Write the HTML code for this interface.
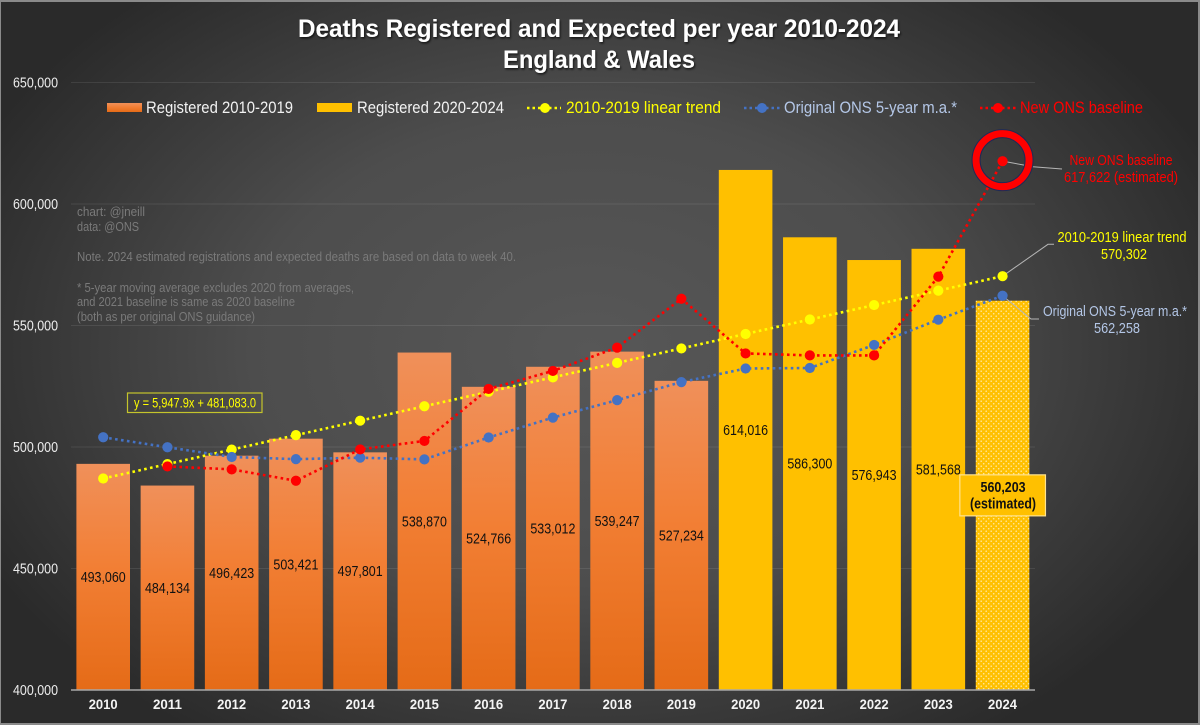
<!DOCTYPE html>
<html lang="en">
<head>
<meta charset="utf-8">
<title>Deaths Registered and Expected per year 2010-2024</title>
<style>
html,body{margin:0;padding:0;background:#8a8a8a;}
svg{display:block;}
text{font-family:"Liberation Sans",sans-serif;}
</style>
</head>
<body>
<svg id="chart" xmlns="http://www.w3.org/2000/svg" width="1200" height="725" viewBox="0 0 1200 725">
  <defs>
    <radialGradient id="bgGrad" gradientUnits="userSpaceOnUse" cx="0" cy="0" r="1" gradientTransform="translate(590 350) scale(680 470)">
      <stop offset="0" stop-color="#575757"/>
      <stop offset="0.5" stop-color="#4d4d4d"/>
      <stop offset="1" stop-color="#2a2a2a"/>
    </radialGradient>
    <linearGradient id="orangeGrad" x1="0" y1="0" x2="0" y2="1">
      <stop offset="0" stop-color="#f0905a"/>
      <stop offset="0.45" stop-color="#f27f35"/>
      <stop offset="1" stop-color="#e56b17"/>
    </linearGradient>
    <pattern id="dots" width="5" height="5" patternUnits="userSpaceOnUse">
      <rect width="5" height="5" fill="#ffc000"/>
      <circle cx="1.2" cy="1.2" r="0.8" fill="#ffe79a"/>
      <circle cx="3.7" cy="3.7" r="0.8" fill="#ffe79a"/>
    </pattern>
    <filter id="titleShadow" x="-5%" y="-20%" width="110%" height="150%">
      <feDropShadow dx="1" dy="1.5" stdDeviation="1" flood-color="#000" flood-opacity="0.7"/>
    </filter>
  </defs>

  <rect x="1" y="2" width="1197" height="721" fill="url(#bgGrad)"/>

  <g id="grid"></g>
  <g id="yTicks"></g>
  <g id="bars"></g>
  <line x1="71" y1="690" x2="1035" y2="690" stroke="#a8a8a8" stroke-width="1.5"/>
  <g id="xTicks"></g>

  <g filter="url(#titleShadow)">
    <text x="599" y="37" text-anchor="middle" font-size="25" font-weight="700" fill="#fff" textLength="602" lengthAdjust="spacingAndGlyphs">Deaths Registered and Expected per year 2010-2024</text>
    <text x="599" y="68" text-anchor="middle" font-size="25" font-weight="700" fill="#fff" textLength="192" lengthAdjust="spacingAndGlyphs">England &amp; Wales</text>
  </g>

  <g font-size="17">
    <g>
      <rect x="107" y="103" width="35" height="9" fill="url(#orangeGrad)"/>
      <text x="146" y="113" fill="#f2f2f2" textLength="147" lengthAdjust="spacingAndGlyphs">Registered 2010-2019</text>
    </g>
    <g>
      <rect x="317" y="103" width="35" height="9" fill="#ffc000"/>
      <text x="357" y="113" fill="#f2f2f2" textLength="147" lengthAdjust="spacingAndGlyphs">Registered 2020-2024</text>
    </g>
    <g>
      <line x1="527" y1="108" x2="561" y2="108" stroke="#ffff00" stroke-width="2.5" stroke-dasharray="2.5 3"/>
      <circle cx="545" cy="108" r="5" fill="#ffff00"/>
      <text x="566" y="113" fill="#ffff00" textLength="155" lengthAdjust="spacingAndGlyphs">2010-2019 linear trend</text>
    </g>
    <g>
      <line x1="744" y1="108" x2="780" y2="108" stroke="#4472c4" stroke-width="2.5" stroke-dasharray="2.5 3"/>
      <circle cx="762" cy="108" r="5" fill="#4472c4"/>
      <text x="784" y="113" fill="#b4c7e7" textLength="173" lengthAdjust="spacingAndGlyphs">Original ONS 5-year m.a.*</text>
    </g>
    <g>
      <line x1="980" y1="108" x2="1016" y2="108" stroke="#ff0000" stroke-width="2.5" stroke-dasharray="2.5 3"/>
      <circle cx="998" cy="108" r="5" fill="#ff0000"/>
      <text x="1020" y="113" fill="#ff0000" textLength="123" lengthAdjust="spacingAndGlyphs">New ONS baseline</text>
    </g>
  </g>

  <g font-size="13" fill="#7a7a7a">
    <text x="77" y="216" textLength="68" lengthAdjust="spacingAndGlyphs">chart: @jneill</text>
    <text x="77" y="231" textLength="62" lengthAdjust="spacingAndGlyphs">data: @ONS</text>
    <text x="77" y="261" textLength="439" lengthAdjust="spacingAndGlyphs">Note. 2024 estimated registrations and expected deaths are based on data to week 40.</text>
    <text x="77" y="292" textLength="277" lengthAdjust="spacingAndGlyphs">* 5-year moving average excludes 2020 from averages,</text>
    <text x="77" y="306" textLength="218" lengthAdjust="spacingAndGlyphs">and 2021 baseline is same as 2020 baseline</text>
    <text x="77" y="321" textLength="178" lengthAdjust="spacingAndGlyphs">(both as per original ONS guidance)</text>
  </g>

  <g>
    <rect x="127.5" y="393" width="134.5" height="19.5" fill="none" stroke="#c4c42c" stroke-width="1.2"/>
    <text x="195" y="407.5" text-anchor="middle" font-size="13.5" fill="#ffff00" textLength="122" lengthAdjust="spacingAndGlyphs">y = 5,947.9x + 481,083.0</text>
  </g>

  <g id="leaders"></g>
  <g id="series"></g>
  <g id="barLabels"></g>
  <g id="ringLayer"></g>

  <g font-size="14.5" text-anchor="middle">
    <text x="1121" y="165" fill="#ff0000" textLength="103" lengthAdjust="spacingAndGlyphs">New ONS baseline</text>
    <text x="1121" y="182" fill="#ff0000" textLength="114" lengthAdjust="spacingAndGlyphs">617,622 (estimated)</text>
    <text x="1122" y="242" fill="#ffff00" textLength="129" lengthAdjust="spacingAndGlyphs">2010-2019 linear trend</text>
    <text x="1124" y="259" fill="#ffff00" textLength="46" lengthAdjust="spacingAndGlyphs">570,302</text>
    <text x="1115" y="316" fill="#b4c7e7" textLength="144" lengthAdjust="spacingAndGlyphs">Original ONS 5-year m.a.*</text>
    <text x="1117" y="333" fill="#b4c7e7" textLength="46" lengthAdjust="spacingAndGlyphs">562,258</text>
  </g>
</svg>

<script>
const years = [2010,2011,2012,2013,2014,2015,2016,2017,2018,2019,2020,2021,2022,2023,2024];
const registered = [493060,484134,496423,503421,497801,538870,524766,533012,539247,527234,614016,586300,576943,581568,560203];
const linearTrend = [487031,492979,498927,504875,510823,516771,522719,528667,534615,540563,546511,552459,558407,564355,570302];
const originalOns = [504000,499900,495900,495000,495600,494900,503900,512100,519300,526700,532300,532500,542000,552400,562258];
const newOns = [null,492000,490800,486100,499000,502500,523900,531300,540900,561000,538500,537700,537700,570100,617622];
const yTickValues = [400000,450000,500000,550000,600000,650000];

const NS = 'http://www.w3.org/2000/svg';
function xScale(i){ return 103.2 + i * 64.24; }
function yScale(v){ return 690 - (v - 400000) / 50000 * 121.5; }
function fmt(v){ return v.toLocaleString('en-US'); }
function mk(tag, attrs, parent){
  const el = document.createElementNS(NS, tag);
  for (const k in attrs) el.setAttribute(k, attrs[k]);
  parent.appendChild(el);
  return el;
}
const grid = document.getElementById('grid');
const yTicksG = document.getElementById('yTicks');
const xTicksG = document.getElementById('xTicks');
const barsG = document.getElementById('bars');
const labelsG = document.getElementById('barLabels');
const seriesG = document.getElementById('series');
const leadersG = document.getElementById('leaders');
const ringG = document.getElementById('ringLayer');

yTickValues.forEach(function(v){
  if (v !== 400000) {
    const line = mk('line', {x1:71, x2:1035, y1:yScale(v), y2:yScale(v), stroke:'rgba(255,255,255,0.09)', 'stroke-width':1}, grid);
    
    
  }
  const t = mk('text', {x:58, y:yScale(v)+5, 'text-anchor':'end', 'font-size':14.5, fill:'#ececec', textLength:45, lengthAdjust:'spacingAndGlyphs'}, yTicksG);
  t.textContent = fmt(v);
  
  
});

years.forEach(function(yr, i){
  const cx = xScale(i);
  const top = yScale(registered[i]);
  const fill = i < 10 ? 'url(#orangeGrad)' : (i < 14 ? '#ffc000' : 'url(#dots)');
  const bar = mk('rect', {x:cx-26.8, y:top, width:53.6, height:690-top, fill:fill}, barsG);
  
  

  const xl = mk('text', {x:cx, y:709, 'text-anchor':'middle', 'font-size':14, 'font-weight':700, fill:'#f4f4f4', textLength:29, lengthAdjust:'spacingAndGlyphs'}, xTicksG);
  xl.textContent = yr;
  
  

  const midY = (top + 690) / 2;
  if (i < 14) {
    const lab = mk('text', {x:cx, y:midY+5, 'text-anchor':'middle', 'font-size':14.5, fill:'#111', textLength:45, lengthAdjust:'spacingAndGlyphs'}, labelsG);
    lab.textContent = fmt(registered[i]);
    
    
  } else {
    const box = mk('rect', {x:cx-42.7, y:midY-20.5, width:85.6, height:41, fill:'#ffc000', stroke:'#ffe38f', 'stroke-width':1.2}, labelsG);
    
    
    const a = mk('text', {x:cx+0.5, y:midY-3.5, 'text-anchor':'middle', 'font-size':14.5, 'font-weight':700, fill:'#111', textLength:45, lengthAdjust:'spacingAndGlyphs'}, labelsG);
    a.textContent = fmt(registered[i]);
    
    
    const b = mk('text', {x:cx+0.5, y:midY+13, 'text-anchor':'middle', 'font-size':14.5, 'font-weight':700, fill:'#111', textLength:66, lengthAdjust:'spacingAndGlyphs'}, labelsG);
    b.textContent = '(estimated)';
    
    
  }
});

function drawSeries(values, color, name){
  const pts = [];
  values.forEach(function(v, i){ if (v !== null) pts.push(xScale(i) + ',' + yScale(v)); });
  const g = mk('g', {}, seriesG);
  
  
  const line = mk('polyline', {points:pts.join(' '), fill:'none', stroke:color, 'stroke-width':2.6, 'stroke-dasharray':'2.6 3.4'}, g);
  
  
  values.forEach(function(v, i){
    if (v === null) return;
    const c = mk('circle', {cx:xScale(i), cy:yScale(v), r:5.1, fill:color}, g);
    
    
  });
}
drawSeries(linearTrend, '#ffff00', 'linear-trend');
drawSeries(originalOns, '#4472c4', 'original-ons');
drawSeries(newOns, '#ff0000', 'new-ons');

const lastX = xScale(14);
function leader(points, name){
  const p = mk('polyline', {points:points.map(function(q){return q.join(',');}).join(' '), fill:'none', stroke:'#b5b5b5', 'stroke-width':1}, leadersG);
  
  
}
leader([[lastX, yScale(newOns[14])],[1033,166.7],[1062,169]], 'leader-new-ons');
leader([[lastX, yScale(linearTrend[14])],[1048,244.3],[1054,244.3]], 'leader-linear-trend');
leader([[lastX, yScale(originalOns[14])],[1031,319],[1039,319]], 'leader-original-ons');

const ringY = yScale(newOns[14]) - 1;
const ringOuter = mk('circle', {cx:lastX, cy:ringY, r:26.5, fill:'none', stroke:'#1f2a55', 'stroke-width':9}, ringG);


const ring = mk('circle', {cx:lastX, cy:ringY, r:26.5, fill:'none', stroke:'#ff0000', 'stroke-width':7}, ringG);


</script>
</body>
</html>
